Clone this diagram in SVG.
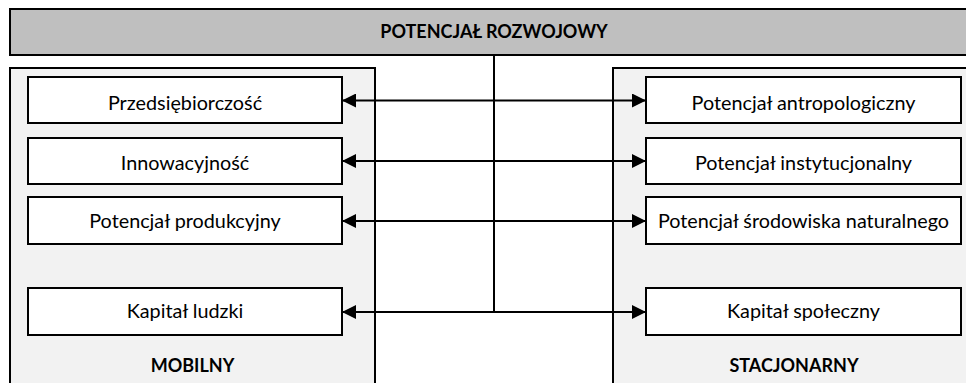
<svg xmlns="http://www.w3.org/2000/svg" width="966" height="383" viewBox="0 0 966 383">
<style>
  .frame{stroke:#000;stroke-width:2}
  .bar{fill:#bfbfbf}
  .panel{fill:#f2f2f2}
  .box{fill:#fff}
  .t{font-family:Lato,"Open Sans","Liberation Sans",sans-serif;font-size:19.8px;fill:#000;text-anchor:middle}
  .b{font-family:Lato,"Open Sans","Liberation Sans",sans-serif;font-size:18px;font-weight:bold;fill:#000;text-anchor:middle}
  .c{stroke:#000;stroke-width:2;fill:none}
</style>
<defs>
  <marker id="ah" viewBox="0 0 14 14" refX="14" refY="7" markerWidth="14" markerHeight="14" markerUnits="userSpaceOnUse" orient="auto-start-reverse">
    <path d="M0,0 L14,7 L0,14 Z" fill="#000"/>
  </marker>
</defs>
<g id="potencjal-rozwojowy">
  <rect class="frame bar" x="10" y="9" width="967" height="46"/>
  <text class="b" x="494" y="38">POTENCJAŁ ROZWOJOWY</text>
</g>
<g id="mobilny">
  <rect class="frame panel" x="10" y="68" width="365" height="330"/>
  <text class="b" x="192.5" y="372">MOBILNY</text>
</g>
<g id="stacjonarny">
  <rect class="frame panel" x="613" y="68" width="364" height="330"/>
  <text class="b" x="794" y="372">STACJONARNY</text>
</g>
<g id="przedsiebiorczosc">
  <rect class="frame box" x="28" y="77" width="314" height="46"/>
  <text class="t" x="185" y="110">Przedsiębiorczość</text>
</g>
<g id="innowacyjnosc">
  <rect class="frame box" x="28" y="138" width="314" height="46"/>
  <text class="t" x="185" y="170">Innowacyjność</text>
</g>
<g id="potencjal-produkcyjny">
  <rect class="frame box" x="28" y="197" width="314" height="47"/>
  <text class="t" x="185" y="228">Potencjał produkcyjny</text>
</g>
<g id="kapital-ludzki">
  <rect class="frame box" x="28" y="288" width="314" height="47"/>
  <text class="t" x="185" y="318">Kapitał ludzki</text>
</g>
<g id="potencjal-antropologiczny">
  <rect class="frame box" x="646" y="77" width="315" height="46"/>
  <text class="t" x="803.5" y="110">Potencjał antropologiczny</text>
</g>
<g id="potencjal-instytucjonalny">
  <rect class="frame box" x="646" y="138" width="315" height="46"/>
  <text class="t" x="803.5" y="170">Potencjał instytucjonalny</text>
</g>
<g id="potencjal-srodowiska">
  <rect class="frame box" x="646" y="197" width="315" height="47"/>
  <text class="t" x="803.5" y="228">Potencjał środowiska naturalnego</text>
</g>
<g id="kapital-spoleczny">
  <rect class="frame box" x="646" y="288" width="315" height="47"/>
  <text class="t" x="803.5" y="318">Kapitał społeczny</text>
</g>
<g id="connectors">
  <line class="c" x1="494" y1="55" x2="494" y2="312"/>
  <line class="c" x1="342" y1="100.5" x2="646" y2="100.5" marker-start="url(#ah)" marker-end="url(#ah)"/>
  <line class="c" x1="342" y1="161" x2="646" y2="161" marker-start="url(#ah)" marker-end="url(#ah)"/>
  <line class="c" x1="342" y1="221" x2="646" y2="221" marker-start="url(#ah)" marker-end="url(#ah)"/>
  <line class="c" x1="342" y1="312" x2="646" y2="312" marker-start="url(#ah)" marker-end="url(#ah)"/>
</g>
</svg>
